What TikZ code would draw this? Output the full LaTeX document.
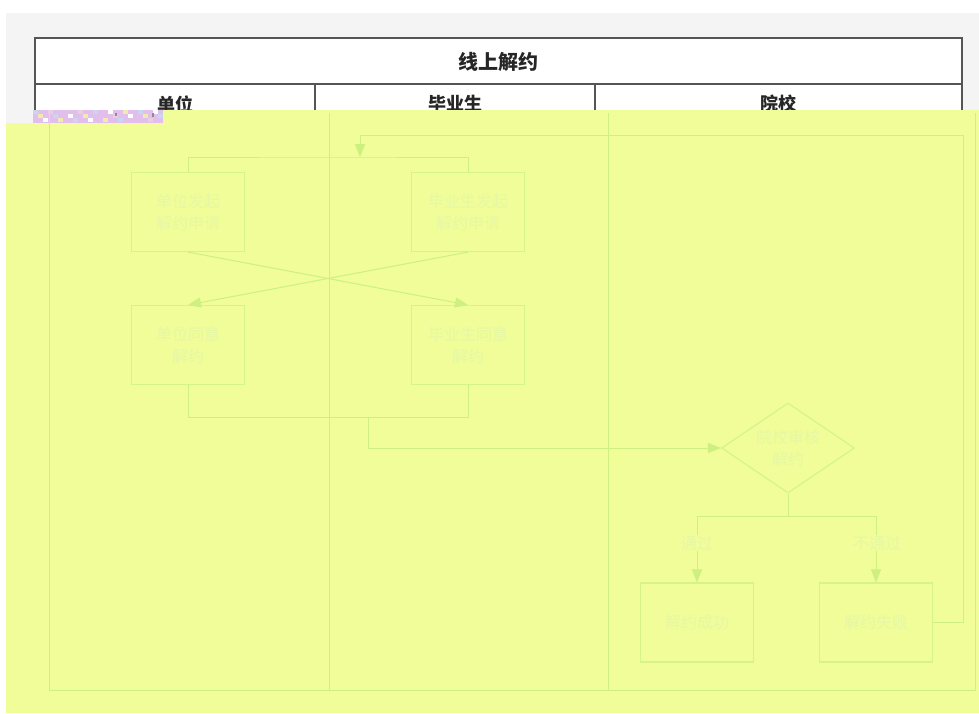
\documentclass[tikz,border=0pt]{standalone}
\usepackage{fontspec}
\setmainfont{Noto Sans CJK SC}
\usetikzlibrary{shapes.geometric,arrows.meta}
\definecolor{ovl}{RGB}{240,253,152}
\definecolor{lanec}{RGB}{205,240,128}
\definecolor{boxc}{RGB}{212,243,138}
\definecolor{txtc}{RGB}{230,248,165}
\definecolor{frame}{RGB}{85,85,85}
\definecolor{bgray}{RGB}{244,244,244}
\definecolor{gl1}{RGB}{225,190,235}
\definecolor{gl2}{RGB}{200,215,240}
\definecolor{gl3}{RGB}{240,235,170}
\definecolor{gl4}{RGB}{235,205,225}
\tikzset{
  lane/.style={draw=lanec, line width=1pt},
  stepbox/.style={rectangle, draw=boxc, line width=1.1pt, minimum width=113pt, minimum height=79pt, inner sep=0pt, align=center, text=txtc, font=\fontsize{16}{22}\selectfont},
  decide/.style={diamond, draw=boxc, line width=1.1pt, minimum width=133pt, minimum height=90pt, aspect=1.48, inner sep=0pt, align=center, text=txtc, font=\fontsize{16}{22}\selectfont},
  conn/.style={draw=lanec, line width=1pt},
  arr/.style={conn, -{Triangle[length=13pt,width=10pt]}},
  lbl/.style={fill=ovl, inner sep=1pt, text=txtc, font=\fontsize{16}{20}\selectfont},
  head/.style={font=\bfseries\fontsize{18}{20}\selectfont, text=black!85},
}
\begin{document}
\begin{tikzpicture}[x=1pt,y=-1pt]
\useasboundingbox (0,0) rectangle (979,713);
\fill[white] (0,0) rectangle (979,713);
\fill[bgray] (6,13) rectangle (979,713);
% header table
\fill[white] (35,38) rectangle (962,113);
\draw[frame, line width=1.6pt] (35,113) -- (35,38) -- (962,38) -- (962,113);
\draw[frame, line width=1.6pt] (35,84) -- (962,84);
\draw[frame, line width=1.2pt] (315,84) -- (315,113);
\draw[frame, line width=1.2pt] (595,84) -- (595,113);
\node[head, font=\bfseries\fontsize{20}{22}\selectfont] (title) at (498,62) {线上解约};
\node[head] (h1) at (175,104) {单位};
\node[head] (h2) at (455,104) {毕业生};
\node[head] (h3) at (778,104) {院校};
% overlay
\fill[ovl] (163,110) rectangle (979,713);
\fill[ovl] (6,123) rectangle (163,713);
% glitch strip
\fill[gl1] (33,110) rectangle (163,123);
\foreach \i/\c in {0/gl2,1/gl3,2/white,3/gl4,4/gl2,5/gl3,6/gl1,7/white,8/gl2,9/gl4,10/gl3,11/white,12/gl2,13/gl1,14/gl3,15/white,16/gl4,17/gl2,18/gl3,19/white,20/gl1,21/gl2,22/gl3,23/gl4,24/white,25/gl2}{
  \fill[\c] ({33+5*\i},{110+mod(\i,3)*4}) rectangle ({38+5*\i},{114+mod(\i,3)*4});
}
\fill[black!45] (115,113) rectangle (117,116);
\fill[black!45] (152,113) rectangle (154,117);
% lanes
\draw[lane] (49,113) -- (49,690) -- (975,690) -- (975,113);
\draw[lane] (329,113) -- (329,690);
\draw[lane] (608,113) -- (608,690);
% nodes
\node[stepbox] (A) at (188,212) {单位发起\\解约申请};
\node[stepbox] (B) at (468,212) {毕业生发起\\解约申请};
\node[stepbox] (C) at (188,345) {单位同意\\解约};
\node[stepbox] (D) at (468,345) {毕业生同意\\解约};
\node[decide] (Q) at (788,448) {院校审核\\解约};
\node[stepbox] (E) at (697,622.5) {解约成功};
\node[stepbox] (F) at (876,622.5) {解约失败};
% coordinates
\coordinate (bus) at (328,157);
\coordinate (lt) at (360,135);
\coordinate (lb) at (360,157);
\coordinate (rc) at (963,135);
\coordinate (mid) at (328,417);
\coordinate (jn) at (368,417);
\coordinate (split) at (788,516);
% connectors
\draw[conn] (A.north) |- (bus) -| (B.north);
\draw[conn] (F.east) -| (rc) -- (lt);
\draw[arr] (lt) -- (lb);
\draw[arr] (A.south) -- (D.north);
\draw[arr] (B.south) -- (C.north);
\draw[conn] (C.south) |- (mid) -| (D.south);
\draw[arr] (jn) |- (Q.west);
\draw[conn] (Q.south) -- (split);
\draw[arr] (split) -| (E.north);
\draw[arr] (split) -| (F.north);
\node[lbl] (t1) at (697,543) {通过};
\node[lbl] (t2) at (877,543) {不通过};
\end{tikzpicture}
\end{document}
